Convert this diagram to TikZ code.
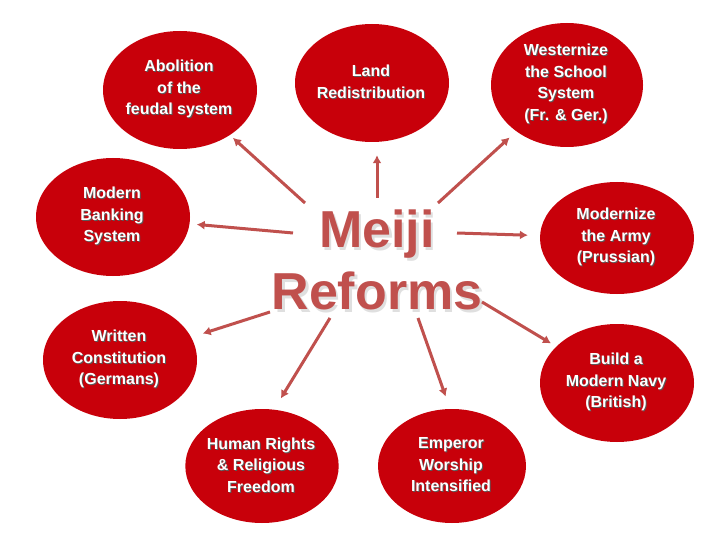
\documentclass[tikz,border=0pt]{standalone}
\usepackage{fontspec}
\setmainfont{Liberation Sans}
\usetikzlibrary{shapes.geometric,arrows.meta}

\definecolor{reformred}{RGB}{200,0,10}
\definecolor{arrowred}{RGB}{192,80,77}

\tikzset{
  reformtext/.style={align=center, font=\fontsize{16}{21.5}\selectfont\bfseries},
  reformbox/.style={reformtext, ellipse, fill=reformred, inner sep=0pt,
    minimum width=154pt, minimum height=118pt},
  hubtext/.style={align=center, font=\fontsize{52}{62}\selectfont\bfseries},
  reformline/.style={->, draw=arrowred, line width=3pt},
}

% ellipse with a dark text shadow under the white text
\newcommand\reform[4][]{%
  \node[reformbox, text=black!65, #1] (#2) at (#3) {#4};
  \node[reformtext, text=white, xshift=-1pt, yshift=1pt] at (#2) {#4};
}

\begin{document}
\begin{tikzpicture}[x=1pt, y=-1pt]
    \tikzset{>={Latex[length=8pt,width=9pt]}}
    \fill[white] (0,0) rectangle (720,540);
    \useasboundingbox (0,0) rectangle (720,540);

    % the reforms
    \reform{abol}{180,90}{Abolition\\of the\\feudal system}
    \reform{land}{372,83}{Land\\Redistribution}
    \reform[minimum width=152pt, minimum height=124pt]{west}{567,85}{Westernize\\the School\\System\\(Fr. \& Ger.)}
    \reform{bank}{113,217}{Modern\\Banking\\System}
    \reform[minimum height=112pt]{army}{617,238}{Modernize\\the Army\\(Prussian)}
    \reform{const}{120,360}{Written\\Constitution\\(Germans)}
    \reform{navy}{617,383}{Build a\\Modern Navy\\(British)}
    \reform[minimum width=152pt, minimum height=114pt]{human}{262,466}{Human Rights\\\& Religious\\Freedom}
    \reform[minimum width=148pt, minimum height=114pt]{emp}{452,466}{Emperor\\Worship\\Intensified}

    % centre title with its light shadow
    \node[hubtext, text=gray!25, xshift=2.5pt, yshift=-2.5pt] at (377,260) {Meiji\\Reforms};
    \node[hubtext, text=arrowred] (hub) at (377,260) {Meiji\\Reforms};

    % where the arrows leave the title
    \coordinate (sabol) at ([shift={(-72,-57)}]hub.center);
    \coordinate (sland) at ([shift={(0,-62)}]hub.center);
    \coordinate (swest) at ([shift={(61,-57)}]hub.center);
    \coordinate (sbank) at ([shift={(-84,-27)}]hub.center);
    \coordinate (sarmy) at ([shift={(80,-27)}]hub.center);
    \coordinate (sconst) at ([shift={(-107,52)}]hub.center);
    \coordinate (snavy) at ([shift={(105,42)}]hub.center);
    \coordinate (shuman) at ([shift={(-47,58)}]hub.center);
    \coordinate (semp) at ([shift={(41,58)}]hub.center);

    \draw[reformline, shorten >=4pt] (sabol) -- (abol);
    \draw[reformline, shorten >=13pt] (sland) -- (sland |- land.south);
    \draw[reformline, shorten >=9pt] (swest) -- (west);
    \draw[reformline, shorten >=7pt] (sbank) -- (bank);
    \draw[reformline, shorten >=12pt] (sarmy) -- (army);
    \draw[reformline, shorten >=12pt] (sconst) -- (const);
    \draw[reformline, shorten >=6pt] (snavy) -- (navy);
    \draw[reformline, shorten >=13pt] (shuman) -- (human.78);
    \draw[reformline, shorten >=13pt] (semp) -- (emp.92);
\end{tikzpicture}
\end{document}
